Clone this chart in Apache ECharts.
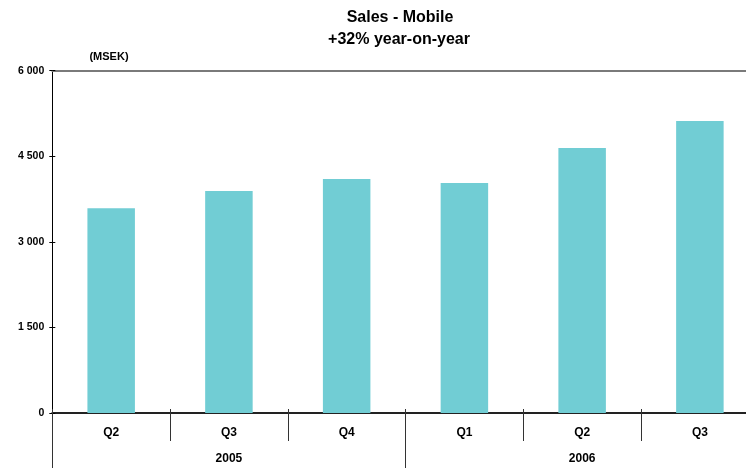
<!DOCTYPE html>
<html>
<head>
<meta charset="utf-8">
<title>Sales - Mobile</title>
<script src="https://cdn.jsdelivr.net/npm/echarts@6/dist/echarts.min.js"></script>
<style>
  html, body { margin: 0; padding: 0; background: #ffffff; }
  #chart { width: 746px; height: 468px; }
</style>
</head>
<body>
<div id="chart"></div>
<script>
// Quarterly mobile sales, MSEK
const quarters = ['Q2', 'Q3', 'Q4', 'Q1', 'Q2', 'Q3'];
const years = ['2005', '2006'];
const sales = [3590, 3890, 4100, 4030, 4645, 5120];
const yMin = 0;
const yMax = 6000;
const yStep = 1500;

const FONT = '"Liberation Sans", Arial, sans-serif';
const BAR_COLOR = '#71CDD4';

function thousands(v) {
  return String(v).replace(/\B(?=(\d{3})+(?!\d))/g, ' ');
}

const chart = echarts.init(document.getElementById('chart'), null, { renderer: 'canvas' });

const valueAxisBase = {
  type: 'value',
  min: yMin,
  max: yMax,
  interval: yStep,
  position: 'left',
  splitLine: { show: false }
};

chart.setOption({
  animation: false,
  backgroundColor: '#ffffff',
  textStyle: { fontFamily: FONT },
  graphic: [
    {
      type: 'text', x: 400, y: 18,
      style: { text: 'Sales - Mobile', font: 'bold 16px ' + FONT, fill: '#000', align: 'center', verticalAlign: 'middle' }
    },
    {
      type: 'text', x: 399, y: 40,
      style: { text: '+32% year-on-year', font: 'bold 16px ' + FONT, fill: '#000', align: 'center', verticalAlign: 'middle' }
    },
    {
      type: 'text', x: 109, y: 57,
      style: { text: '(MSEK)', font: 'bold 11px ' + FONT, fill: '#000', align: 'center', verticalAlign: 'middle' }
    }
  ],
  // the plot area runs past the right edge of the canvas
  grid: {
    left: 52.3, right: -12.75, top: 70.7, bottom: 55,
    containLabel: false,
    outerBoundsMode: 'none'
  },
  xAxis: [
    {
      // quarter labels and outer dividers
      type: 'category',
      data: quarters,
      position: 'bottom',
      boundaryGap: true,
      axisLine: { show: true, lineStyle: { color: '#222', width: 2 } },
      axisTick: { show: true, inside: false, length: 28, lineStyle: { color: '#333', width: 1 } },
      axisLabel: { show: true, margin: 14, color: '#000', fontWeight: 'bold', fontSize: 12, fontFamily: FONT },
      splitLine: { show: false }
    },
    {
      // short divider stubs above the baseline
      type: 'category',
      data: quarters,
      position: 'bottom',
      boundaryGap: true,
      axisLine: { show: false },
      axisTick: { show: true, inside: true, length: 4, lineStyle: { color: '#333', width: 1 } },
      axisLabel: { show: false },
      splitLine: { show: false }
    },
    {
      // year grouping row
      type: 'category',
      data: years,
      position: 'bottom',
      offset: 28,
      boundaryGap: true,
      axisLine: { show: false },
      axisTick: { show: true, inside: false, length: 27, lineStyle: { color: '#333', width: 1 } },
      axisLabel: { show: true, margin: 12, color: '#000', fontWeight: 'bold', fontSize: 12, fontFamily: FONT },
      splitLine: { show: false }
    },
    {
      // top frame line
      type: 'category',
      data: quarters,
      position: 'top',
      axisLine: { show: true, lineStyle: { color: '#7a7a7a', width: 2 } },
      axisTick: { show: false },
      axisLabel: { show: false },
      splitLine: { show: false }
    }
  ],
  yAxis: [
    Object.assign({}, valueAxisBase, {
      axisLine: { show: true, lineStyle: { color: '#000', width: 1 } },
      axisTick: { show: true, inside: false, length: 3, lineStyle: { color: '#000', width: 1 } },
      axisLabel: {
        show: true, margin: 8, color: '#000', fontWeight: 'bold', fontSize: 10.5, fontFamily: FONT,
        formatter: thousands
      }
    }),
    Object.assign({}, valueAxisBase, {
      axisLine: { show: false },
      axisTick: { show: true, inside: true, length: 3, lineStyle: { color: '#000', width: 1 } },
      axisLabel: { show: false }
    })
  ],
  series: [
    {
      type: 'bar',
      xAxisIndex: 0,
      yAxisIndex: 0,
      data: sales,
      barWidth: 47.5,
      itemStyle: { color: BAR_COLOR },
      z: 1
    }
  ]
});
</script>
</body>
</html>
